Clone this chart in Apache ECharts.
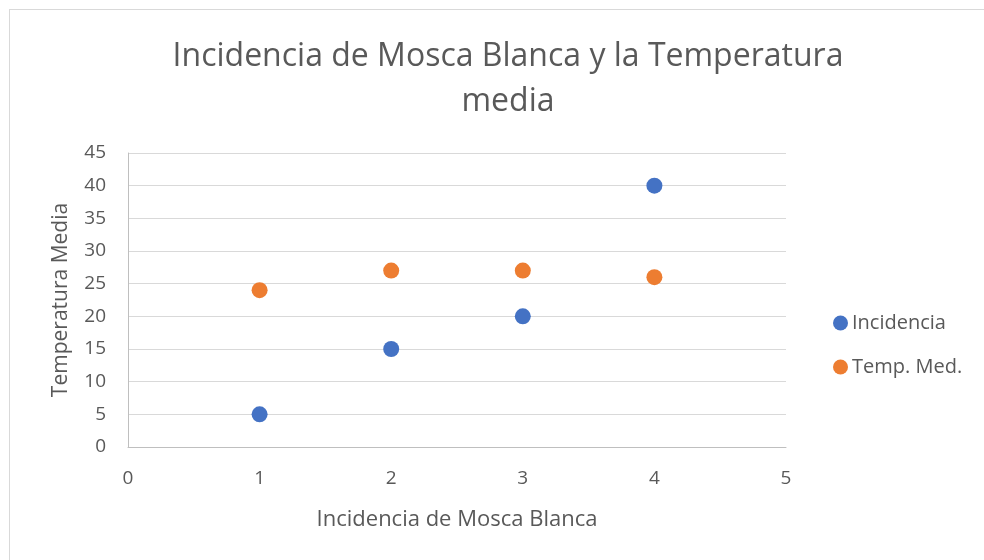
<!DOCTYPE html>
<html>
<head>
<meta charset="utf-8">
<script src="https://cdn.jsdelivr.net/npm/echarts@6/dist/echarts.min.js"></script>
<style>
  html, body { margin: 0; padding: 0; background: #fff; overflow: hidden; }
  #frame { position: absolute; left: 9px; top: 9px; width: 1000px; height: 600px; border: 1px solid #d9d9d9; }
  #main { position: absolute; left: 0; top: 0; width: 984px; height: 560px; }
</style>
</head>
<body>
<div id="frame"></div>
<div id="main"></div>
<script>
// datos
var xCats = [1, 2, 3, 4];
var incidencia = [5, 15, 20, 40];
var tempMed = [24, 27, 27, 26];

var fnt = '"Open Sans", "Noto Sans", sans-serif';
var txt = '#595959';

function pares(xs, ys) {
    return xs.map(function (x, i) { return [x, ys[i]]; });
}

var chart = echarts.init(document.getElementById('main'));
chart.setOption({
    animation: false,
    title: {
        text: 'Incidencia de Mosca Blanca y la Temperatura\nmedia',
        left: 503,
        textAlign: 'center',
        top: 29,
        textStyle: { fontFamily: fnt, fontSize: 32, fontWeight: 'normal', color: txt, lineHeight: 45 }
    },
    legend: {
        orient: 'vertical',
        left: 828,
        top: 308,
        itemGap: 24,
        itemWidth: 15,
        itemHeight: 15,
        icon: 'circle',
        textStyle: { fontFamily: fnt, fontSize: 20, color: txt, padding: [0, 0, 0, -1] },
        data: ['Incidencia', 'Temp. Med.']
    },
    grid: { left: 128, right: 198, top: 153, bottom: 113 },
    xAxis: {
        type: 'value',
        min: 0, max: 5, interval: 1,
        name: 'Incidencia de Mosca Blanca',
        nameLocation: 'middle',
        nameGap: 62,
        nameTextStyle: { fontFamily: fnt, fontSize: 22, color: txt },
        axisLine: { show: true, lineStyle: { color: '#bfbfbf' } },
        axisTick: { show: false },
        splitLine: { show: false },
        axisLabel: { fontFamily: fnt, fontSize: 19, color: txt, margin: 22 }
    },
    yAxis: {
        type: 'value',
        min: 0, max: 45, interval: 5,
        name: 'Temperatura Media',
        nameLocation: 'middle',
        nameGap: 56,
        nameTextStyle: { fontFamily: fnt, fontSize: 21, color: txt },
        axisLine: { show: true, lineStyle: { color: '#bfbfbf' } },
        axisTick: { show: false },
        splitLine: { show: true, lineStyle: { color: '#d9d9d9' } },
        axisLabel: { fontFamily: fnt, fontSize: 19, color: txt, margin: 22 }
    },
    series: [
        {
            name: 'Incidencia',
            type: 'scatter',
            symbolSize: 16,
            itemStyle: { color: '#4472C4', opacity: 1 },
            data: pares(xCats, incidencia)
        },
        {
            name: 'Temp. Med.',
            type: 'scatter',
            symbolSize: 16,
            itemStyle: { color: '#ED7D31', opacity: 1 },
            data: pares(xCats, tempMed)
        }
    ]
});
</script>
</body>
</html>
